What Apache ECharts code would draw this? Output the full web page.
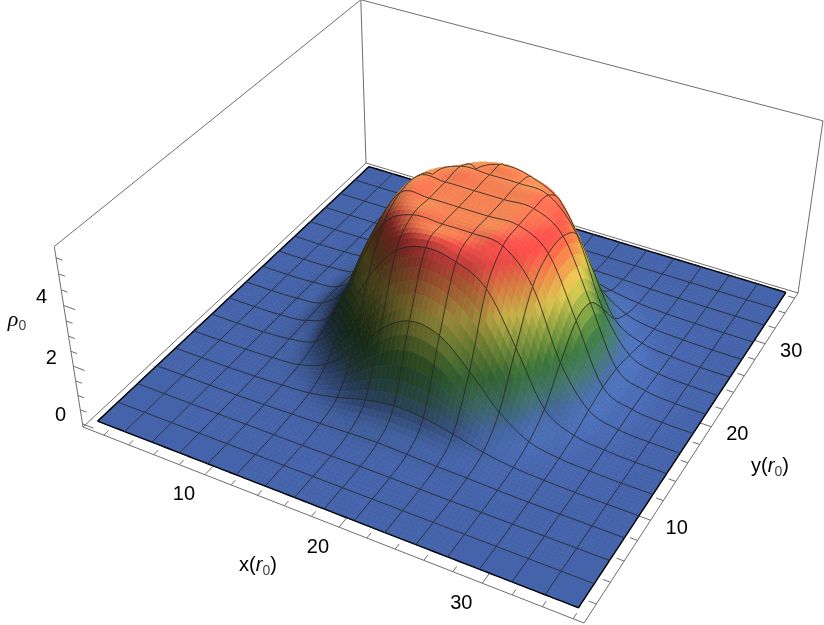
<!DOCTYPE html>
<html>
<head>
<meta charset="utf-8">
<style>
html,body{margin:0;padding:0;background:#fff}
#chart{width:824px;height:625px}
</style>
<script src="https://cdn.jsdelivr.net/npm/echarts@6/dist/echarts.min.js"></script>
</head>
<body>
<div id="chart"></div>
<script>
// surface heights, rows are y, columns are x
var rho = [
  [0,0,0,0,0,0,0,0,0,0,0,0,0,0,0,0,0],
  [0,0,0,0,0,0,0,0,0,0,0,0,0,0,0,0,0],
  [0,0,0,0,0,0,0,.01,.02,.02,.01,0,0,0,0,0,0],
  [0,0,0,0,.02,.05,.08,.12,.15,.12,.08,.06,.03,.01,0,0,0],
  [0,0,0,.02,.06,.13,.33,.6,.75,.7,.5,.25,.1,.04,.01,0,0],
  [0,0,.01,.05,.14,.5,1.3,2.4,3,2.85,2,.95,.3,.09,.03,0,0],
  [0,0,.02,.1,.35,1.4,3.2,4.4,4.8,4.65,4.1,2.5,.75,.2,.06,.01,0],
  [0,0,.03,.15,.7,2.7,4.45,5,5,5,4.9,3.9,1.7,.4,.08,.02,0],
  [0,0,.04,.2,1.1,3.3,4.9,5,5,5,5,4.4,2.5,.55,.12,.02,0],
  [0,0,.04,.2,1.1,3.3,4.9,5,5,5,5,4.4,2.5,.55,.12,.02,0],
  [0,0,.03,.15,.7,2.7,4.45,5,5,5,4.9,3.9,1.7,.4,.08,.02,0],
  [0,0,.02,.1,.35,1.4,3.2,4.4,4.8,4.65,4.1,2.5,.75,.2,.06,.01,0],
  [0,0,.01,.05,.14,.5,1.3,2.4,3,2.85,2,.95,.3,.09,.03,0,0],
  [0,0,0,.02,.06,.13,.33,.6,.75,.7,.5,.25,.1,.04,.01,0,0],
  [0,0,0,0,.02,.05,.08,.12,.15,.12,.08,.06,.03,.01,0,0,0],
  [0,0,0,0,0,0,0,0,.01,0,0,0,0,0,0,0,0],
  [0,0,0,0,0,0,0,0,0,0,0,0,0,0,0,0,0]
];
var xRange = [1, 36];
var yRange = [1, 36];
var xBox = [0.3, 36.7];
var yBox = [0.3, 36.7];
var zBox = [-0.11, 5.85];
var xLabels = [10, 20, 30];
var yLabels = [10, 20, 30];
var zLabels = [0, 2, 4];
var xMinor = [2,4,6,8,10,12,14,16,18,20,22,24,26,28,30,32,34,36];
var yMinor = [2,4,6,8,10,12,14,16,18,20,22,24,26,28,30,32,34,36];
var zMinor = [0,.5,1,1.5,2,2.5,3,3.5,4,4.5,5,5.5];
var colorStops = [
  [0, 69,99,171],[0.6, 69,105,165],[1.2, 70,125,110],[1.8, 65,130,65],
  [2.6, 150,175,70],[3.3, 235,210,85],[4.0, 245,140,75],[4.6, 240,75,70],[5.4, 240,85,75]
];

// camera: picture positions of the box corners, solved to a perspective matrix
var floorPix = [[83,427],[584,623],[798,293],[366,163]];
var topPix = [[54,246,0,0],[361,0,0,1],[823,121,1,1]];

function solve(A, b) {
  var n = b.length, M = A.map(function (r, i) { return r.concat(b[i]); });
  for (var c = 0; c < n; c++) {
    var p = c;
    for (var r = c + 1; r < n; r++) if (Math.abs(M[r][c]) > Math.abs(M[p][c])) p = r;
    var t = M[c]; M[c] = M[p]; M[p] = t;
    for (var r = 0; r < n; r++) {
      if (r == c) continue;
      var f = M[r][c] / M[c][c];
      for (var k = c; k <= n; k++) M[r][k] -= f * M[c][k];
    }
  }
  return M.map(function (r, i) { return r[n] / r[i]; });
}
var floorUV = [[0,0],[1,0],[1,1],[0,1]];
var hA = [], hB = [];
floorUV.forEach(function (q, i) {
  var u = q[0], v = q[1], X = floorPix[i][0], Y = floorPix[i][1];
  hA.push([u,v,1,0,0,0,-u*X,-v*X]); hB.push(X);
  hA.push([0,0,0,u,v,1,-u*Y,-v*Y]); hB.push(Y);
});
var h = solve(hA, hB);
// vertical column from the three top corners, least squares
var zA = [], zB = [];
topPix.forEach(function (q) {
  var u = q[2], v = q[3];
  var X0 = h[0]*u+h[1]*v+h[2], Y0 = h[3]*u+h[4]*v+h[5], W0 = h[6]*u+h[7]*v+1;
  zA.push([1,0,-q[0]]); zB.push(q[0]*W0-X0);
  zA.push([0,1,-q[1]]); zB.push(q[1]*W0-Y0);
});
var nA = [[0,0,0],[0,0,0],[0,0,0]], nB = [0,0,0];
zA.forEach(function (r, i) {
  for (var a = 0; a < 3; a++) {
    for (var b = 0; b < 3; b++) nA[a][b] += r[a]*r[b];
    nB[a] += r[a]*zB[i];
  }
});
var vz = solve(nA, nB);

function project(x, y, z) {
  var u = (x-xBox[0])/(xBox[1]-xBox[0]), v = (y-yBox[0])/(yBox[1]-yBox[0]), t = (z-zBox[0])/(zBox[1]-zBox[0]);
  var X = h[0]*u+h[1]*v+h[2]+t*vz[0], Y = h[3]*u+h[4]*v+h[5]+t*vz[1], W = h[6]*u+h[7]*v+1+t*vz[2];
  return [X/W, Y/W];
}

var N = rho.length - 1;
function cr(a, b, c, d, t) {
  return b + 0.5*t*(c-a + t*(2*a-5*b+4*c-d + t*(3*(b-c)+d-a)));
}
function node(i, j) {
  i = Math.max(0, Math.min(N, i)); j = Math.max(0, Math.min(N, j));
  return rho[j][i];
}
// smooth height between the mesh nodes
function height(s, t) {
  var i = Math.min(N-1, Math.floor(s)), j = Math.min(N-1, Math.floor(t)), fs = s-i, ft = t-j, col = [];
  for (var k = -1; k <= 2; k++) col.push(cr(node(i-1,j+k), node(i,j+k), node(i+1,j+k), node(i+2,j+k), fs));
  return Math.max(0, cr(col[0], col[1], col[2], col[3], ft));
}
function shade(s, t) {
  var z = height(s, t), e = 0.1;
  var dx = (height(Math.min(N,s+e),t)-height(Math.max(0,s-e),t))/(2*e)*1.13;
  var dy = (height(s,Math.min(N,t+e))-height(s,Math.max(0,t-e)))/(2*e)*1.13;
  var len = Math.sqrt(dx*dx+dy*dy+1), nx = -dx/len, ny = -dy/len, nz = 1/len;
  var f = 0.35 + 0.65*(0.55*nx + 0.1*ny + 0.83*nz)/0.83;
  f = Math.max(0.3, f);
  var c = colorStops[colorStops.length-1].slice(1);
  for (var k = 1; k < colorStops.length; k++) {
    if (z <= colorStops[k][0]) {
      var a = colorStops[k-1], b = colorStops[k], w = (z-a[0])/(b[0]-a[0]);
      c = [a[1]+(b[1]-a[1])*w, a[2]+(b[2]-a[2])*w, a[3]+(b[3]-a[3])*w];
      break;
    }
  }
  // top of the bump catches a warm light from behind
  var warm = Math.max(0, Math.min(1, (z-3.8)/1)) * Math.max(0, nz*0.7 - nx*0.5 + ny*0.9 - 0.2);
  warm = Math.min(0.75, warm);
  var out = [c[0]*f, c[1]*f, c[2]*f];
  out = [out[0]+(255-out[0])*warm, out[1]+(185-out[1])*warm, out[2]+(100-out[2])*warm];
  return 'rgb(' + out.map(function (v) { return Math.round(Math.min(255, v)); }).join(',') + ')';
}
function surfPoint(s, t) {
  return project(xRange[0]+(xRange[1]-xRange[0])*s/N, yRange[0]+(yRange[1]-yRange[0])*t/N, height(s, t));
}

// painter order: far corner (low x, high y) first
var cells = [];
for (var i = 0; i < N; i++) for (var j = N-1; j >= 0; j--) cells.push([i, j]);

function edge(api, pts, color, width) {
  return {type: 'polyline', silent: true,
    shape: {points: pts.map(function (p) { return api.coord(p); })},
    style: {stroke: color, lineWidth: width, fill: null}};
}
function renderCell(params, api) {
  var i = api.value(0), j = api.value(1), kids = [];
  var flat = true;
  for (var a = -1; a <= 2; a++) for (var b = -1; b <= 2; b++) if (node(i+a, j+b) > 0) flat = false;
  var sub = flat ? 1 : 6;
  for (var a = 0; a < sub; a++) {
    for (var b = sub-1; b >= 0; b--) {
      var s0 = i+a/sub, s1 = i+(a+1)/sub, t0 = j+b/sub, t1 = j+(b+1)/sub;
      var col = shade((s0+s1)/2, (t0+t1)/2);
      kids.push({type: 'polygon', silent: true,
        shape: {points: [surfPoint(s0,t0), surfPoint(s1,t0), surfPoint(s1,t1), surfPoint(s0,t1)].map(function (p) { return api.coord(p); })},
        style: {fill: col, stroke: col, lineWidth: 0.7}});
    }
  }
  function line(f) {
    var pts = [];
    for (var k = 0; k <= 6; k++) pts.push(f(k/6));
    return pts;
  }
  var mesh = 'rgba(35,35,35,0.9)', rim = '#000';
  kids.push(edge(api, line(function (q) { return surfPoint(i+q, j+1); }), j+1 == N ? rim : mesh, j+1 == N ? 1.4 : 0.9));
  kids.push(edge(api, line(function (q) { return surfPoint(i, j+q); }), i == 0 ? rim : mesh, i == 0 ? 1.4 : 0.9));
  if (j == 0) kids.push(edge(api, line(function (q) { return surfPoint(i+q, 0); }), rim, 1.4));
  if (i+1 == N) kids.push(edge(api, line(function (q) { return surfPoint(N, j+q); }), rim, 1.4));
  return {type: 'group', children: kids};
}

var boxEdges = [
  [[0,0,0],[1,0,0]],[[1,0,0],[1,1,0]],[[1,1,0],[0,1,0]],[[0,1,0],[0,0,0]],
  [[0,0,0],[0,0,1]],[[0,1,0],[0,1,1]],[[1,1,0],[1,1,1]],
  [[0,0,1],[0,1,1]],[[0,1,1],[1,1,1]]
];
function boxPoint(q) { return project(xBox[q[0]], yBox[q[1]], zBox[q[2]]); }
function renderBox(params, api) {
  var kids = [], grey = '#6e6e6e';
  boxEdges.forEach(function (e) { kids.push(edge(api, [boxPoint(e[0]), boxPoint(e[1])], grey, 1)); });
  xMinor.forEach(function (x) {
    var l = xLabels.indexOf(x) >= 0 ? 0.9 : 0.5;
    kids.push(edge(api, [project(x, yBox[0], zBox[0]), project(x, yBox[0]+l, zBox[0])], grey, 1));
  });
  yMinor.forEach(function (y) {
    var l = yLabels.indexOf(y) >= 0 ? 0.9 : 0.5;
    kids.push(edge(api, [project(xBox[1], y, zBox[0]), project(xBox[1]-l, y, zBox[0])], grey, 1));
  });
  zMinor.forEach(function (z) {
    var l = zLabels.indexOf(z) >= 0 ? 0.9 : 0.5;
    kids.push(edge(api, [project(xBox[0], yBox[0], z), project(xBox[0]+l, yBox[0], z)], grey, 1));
  });
  var font = '"Liberation Sans", Arial, sans-serif';
  function label(p, dx, dy, txt) {
    var c = api.coord(p);
    kids.push({type: 'text', silent: true, x: c[0]+dx, y: c[1]+dy,
      style: {text: String(txt), fontSize: 20, fontFamily: font, fill: '#000', align: 'center', verticalAlign: 'middle'}});
  }
  xLabels.forEach(function (x) { label(project(x, yBox[0], zBox[0]), -21, 20, x); });
  yLabels.forEach(function (y) { label(project(xBox[1], y, zBox[0]), 26, 8, y); });
  zLabels.forEach(function (z) { label(project(xBox[0], yBox[0], z), -22, -8, z); });
  return {type: 'group', children: kids};
}

var rich = {
  n: {fontSize: 20, fontFamily: '"Liberation Sans", Arial, sans-serif', fill: '#000', lineHeight: 26, verticalAlign: 'middle'},
  i: {fontSize: 20, fontFamily: '"Liberation Sans", Arial, sans-serif', fontStyle: 'italic', fill: '#000', lineHeight: 26, verticalAlign: 'middle'},
  g: {fontSize: 22, fontFamily: '"Liberation Serif", serif', fontStyle: 'italic', fill: '#000', lineHeight: 26, verticalAlign: 'middle'},
  s: {fontSize: 14, fontFamily: '"Liberation Sans", Arial, sans-serif', fill: '#444', lineHeight: 14, verticalAlign: 'bottom'}
};
var titles = [
  {text: '{n|x(}{i|r}{s|0}{n|)}', x: 258, y: 565},
  {text: '{n|y(}{i|r}{s|0}{n|)}', x: 770, y: 466},
  {text: '{g|ρ}{s|0}', x: 17, y: 320}
];

var chart = echarts.init(document.getElementById('chart'), null, {renderer: 'canvas'});
chart.setOption({
  animation: false,
  backgroundColor: '#fff',
  grid: {left: 0, right: 0, top: 0, bottom: 0},
  xAxis: {type: 'value', min: 0, max: 824, show: false},
  yAxis: {type: 'value', min: 0, max: 625, inverse: true, show: false},
  graphic: titles.map(function (t) {
    return {type: 'text', x: t.x, y: t.y, silent: true,
      style: {text: t.text, rich: rich, align: 'center', verticalAlign: 'middle'}};
  }),
  series: [
    {type: 'custom', coordinateSystem: 'cartesian2d', clip: false, silent: true, z: 1, data: [[0]], renderItem: renderBox},
    {type: 'custom', coordinateSystem: 'cartesian2d', clip: false, silent: true, z: 2, progressive: 0, data: cells, renderItem: renderCell}
  ]
});
</script>
</body>
</html>
